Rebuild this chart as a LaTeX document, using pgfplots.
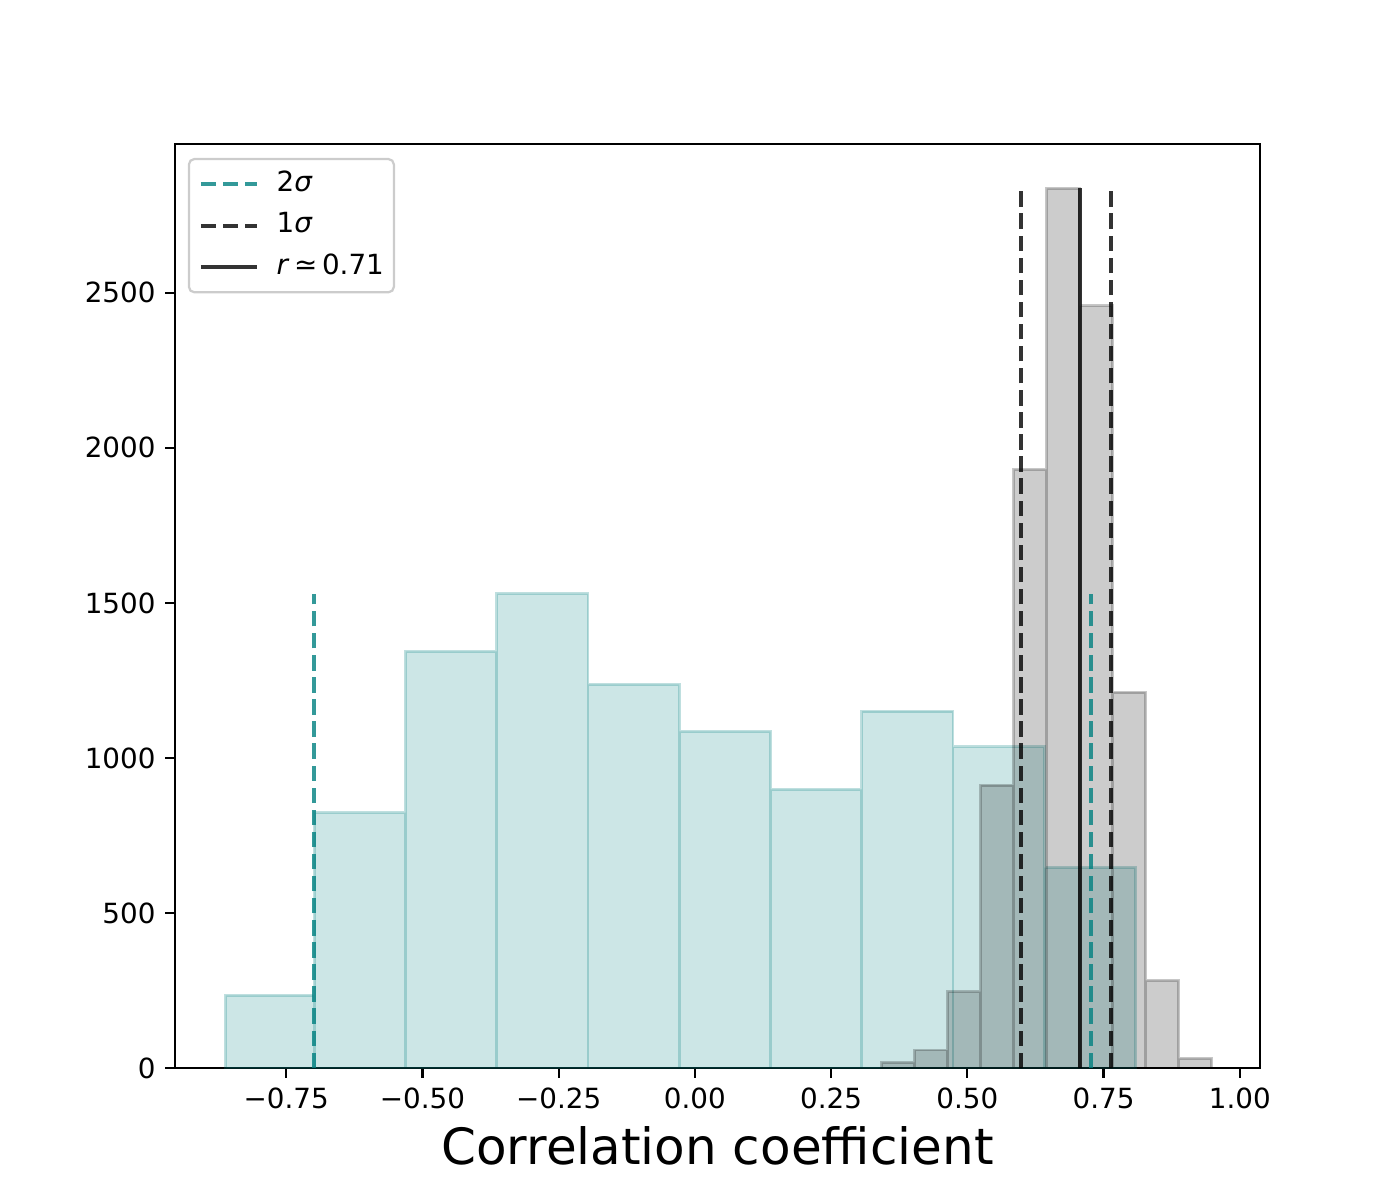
\documentclass[border=0pt]{standalone}
\usepackage{fontspec}
\setmainfont{DejaVu Sans}
\usepackage{pgfplots}
\pgfplotsset{compat=1.18}
\definecolor{tealc}{RGB}{0,128,128}
\definecolor{legframe}{RGB}{204,204,204}
\begin{document}
\begin{tikzpicture}
\useasboundingbox (-63pt,-47.52pt) rectangle (441pt,384.48pt);
\begin{axis}[
  at={(0,0)}, anchor=south west,
  scale only axis, width=390.6pt, height=332.64pt,
  xmin=-0.954, xmax=1.037, ymin=0, ymax=2980,
  axis line style={line width=0.8pt},
  every tick/.style={black, line width=0.8pt},
  tick align=outside, major tick length=3.5pt,
  tick pos=left,
  scaled ticks=false,
  xtick={-0.75,-0.5,-0.25,0,0.25,0.5,0.75,1},
  xticklabels={−0.75,−0.50,−0.25,0.00,0.25,0.50,0.75,1.00},
  ytick={0,500,1000,1500,2000,2500},
  yticklabels={0,500,1000,1500,2000,2500},
  ticklabel style={font=\fontsize{10}{12}\selectfont},
  xlabel={Correlation coefficient},
  xlabel style={font=\fontsize{18}{21.6}\selectfont, at={(axis description cs:0.5,0)}, anchor=base, yshift=-34.56pt},
  legend style={at={(0,1)}, anchor=north west, xshift=4.6pt, yshift=-5pt,
    draw=legframe, line width=0.8pt, rounded corners=2pt,
    font=\fontsize{10}{12}\selectfont, inner xsep=3.6pt, inner ysep=4pt,
    row sep=5pt, column sep=6.5pt,
    nodes={inner xsep=0pt, inner ysep=0pt, text height=7.6pt, text depth=2.4pt}},
  legend cell align=left,
  legend image code/.code={\draw[#1] (0pt,0pt) -- (20pt,0pt);},
]
% teal histogram
\addplot[ybar interval, fill=tealc, fill opacity=0.2, draw=tealc, draw opacity=0.25, line width=1pt, forget plot]
coordinates {(-0.8610,234) (-0.6982,824) (-0.5308,1344) (-0.3634,1530) (-0.1960,1237) (-0.0286,1086) (0.1388,899) (0.3062,1151) (0.4736,1036) (0.6410,646) (0.8084,646)};
% gray histogram
\addplot[ybar interval, fill=black, fill opacity=0.2, draw=black, draw opacity=0.22, line width=1pt, forget plot]
coordinates {(0.3426,18) (0.4032,58) (0.4637,246) (0.5243,912) (0.5848,1931) (0.6454,2837) (0.7059,2458) (0.7665,1212) (0.8270,283) (0.8876,31) (0.9481,31)};
% 2 sigma
\addplot[draw=tealc, draw opacity=0.8, line width=1.5pt, dash pattern=on 5.55pt off 2.4pt] coordinates {(-0.6985,0) (-0.6985,1530)};
\addlegendentry{2\textit{σ}}
\addplot[draw=tealc, draw opacity=0.8, line width=1.5pt, dash pattern=on 5.55pt off 2.4pt, forget plot] coordinates {(0.7266,0) (0.7266,1530)};
% 1 sigma
\addplot[draw=black, draw opacity=0.8, line width=1.5pt, dash pattern=on 5.55pt off 2.4pt] coordinates {(0.598,0) (0.598,2837)};
\addlegendentry{1\textit{σ}}
\addplot[draw=black, draw opacity=0.8, line width=1.5pt, dash pattern=on 5.55pt off 2.4pt, forget plot] coordinates {(0.7633,0) (0.7633,2837)};
% r
\addplot[draw=black, draw opacity=0.8, line width=1.5pt] coordinates {(0.706,0) (0.706,2837)};
\addlegendentry{\textit{r}\,≃\,0.71}
\end{axis}
\end{tikzpicture}
\end{document}
